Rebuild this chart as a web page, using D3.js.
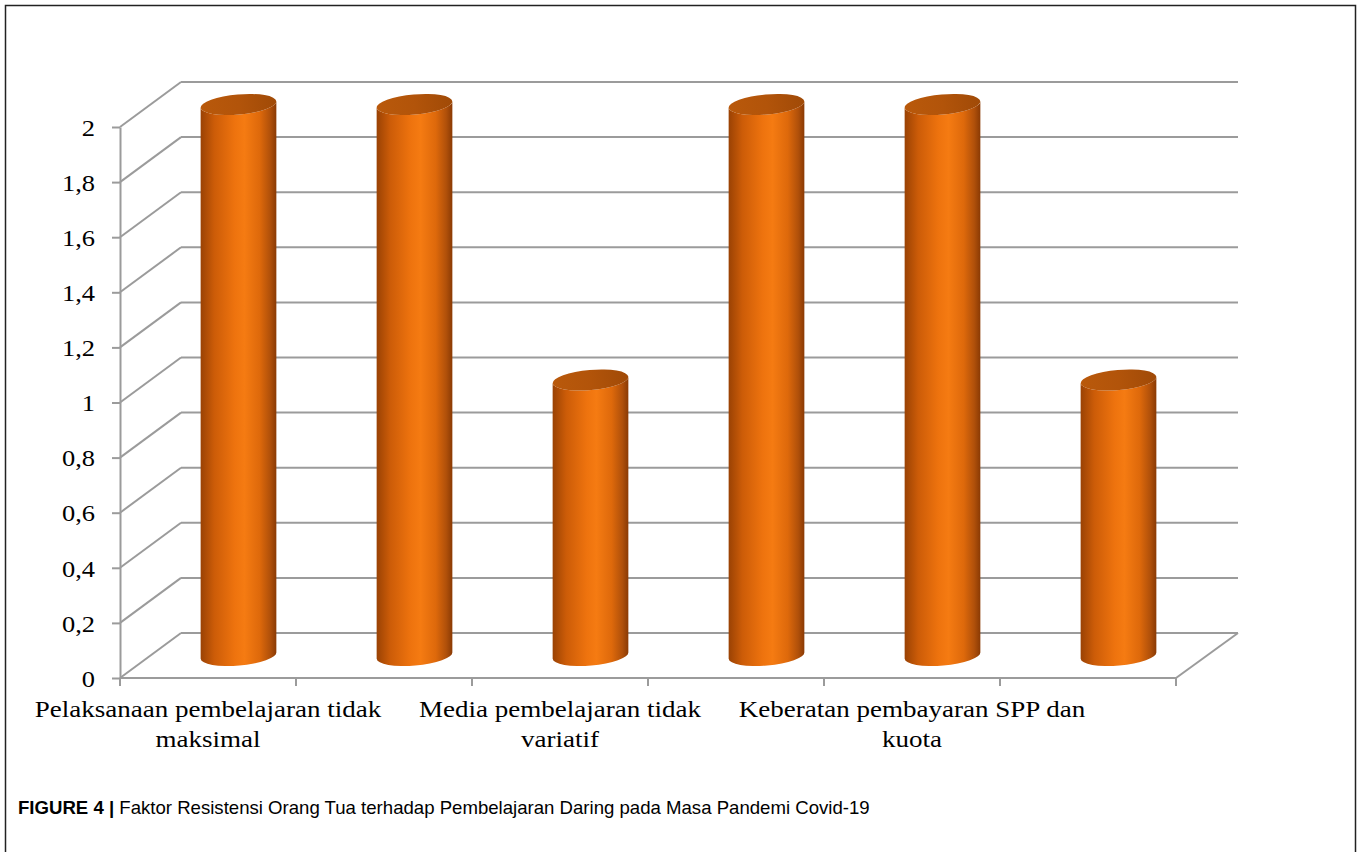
<!DOCTYPE html>
<html>
<head>
<meta charset="utf-8">
<script src="https://cdn.jsdelivr.net/npm/d3@7"></script>
<style>
  html, body { margin: 0; padding: 0; background: #fff; }
  svg { display: block; }
</style>
</head>
<body>
<svg id="chart" width="1363" height="852"></svg>
<script>
// ---- data ----
const categories = [
  "Pelaksanaan pembelajaran tidak\nmaksimal",
  "",
  "Media pembelajaran tidak\nvariatif",
  "",
  "Keberatan pembayaran SPP dan\nkuota",
  ""
];
const values = [2, 2, 1, 2, 2, 1];
const yTicks = [0, 0.2, 0.4, 0.6, 0.8, 1, 1.2, 1.4, 1.6, 1.8, 2];
const captionBold = "FIGURE 4 |";
const captionText = "Faktor Resistensi Orang Tua terhadap Pembelajaran Daring pada Masa Pandemi Covid-19";

(function () {
// ---- layout ----
const svg = d3.select("#chart");
const W = 1363, H = 852;
const plotLeft = 120, plotRight = 1176, plotBottom = 678, plotTop = 127;
const depthX = 61, depthY = 45;
const serifStretch = 1.15;

svg.append("rect").attr("x", 0).attr("y", 0).attr("width", W).attr("height", H).attr("fill", "#fff");
// page frame
svg.append("path")
  .attr("d", `M5.5,${H + 5} L5.5,5.5 L1355.5,5.5 L1355.5,${H + 5}`)
  .attr("fill", "none").attr("stroke", "#222").attr("stroke-width", 1.5);

const x = d3.scaleBand().domain(d3.range(categories.length)).range([plotLeft, plotRight]).paddingInner(0).paddingOuter(0);
const y = d3.scaleLinear().domain([0, 2]).range([plotBottom, plotTop]);

const grid = "#9b9b9b";
const g = svg.append("g");

// back wall gridlines + left wall diagonals
yTicks.forEach(t => {
  const fy = y(t), by = y(t) - depthY;
  g.append("line").attr("x1", plotLeft + depthX).attr("x2", plotRight + depthX + 1)
    .attr("y1", by).attr("y2", by).attr("stroke", grid).attr("stroke-width", 2);
  g.append("line").attr("x1", plotLeft).attr("y1", fy).attr("x2", plotLeft + depthX).attr("y2", by)
    .attr("stroke", grid).attr("stroke-width", 2);
});
// floor front edge and right diagonal
g.append("line").attr("x1", plotLeft).attr("x2", plotRight).attr("y1", plotBottom).attr("y2", plotBottom)
  .attr("stroke", grid).attr("stroke-width", 2);
g.append("line").attr("x1", plotRight).attr("y1", plotBottom).attr("x2", plotRight + depthX + 1).attr("y2", plotBottom - depthY)
  .attr("stroke", grid).attr("stroke-width", 2);

// y axis
const yAxis = d3.axisLeft(y).tickValues(yTicks).tickSize(8).tickSizeOuter(0).tickPadding(17)
  .tickFormat(d => d3.format("~g")(d).replace(".", ","));
const ya = svg.append("g").attr("transform", `translate(${plotLeft},0)`).call(yAxis);
ya.select(".domain").attr("stroke", grid).attr("stroke-width", 2);
ya.selectAll(".tick line").attr("stroke", grid).attr("stroke-width", 2);
ya.selectAll(".tick text").attr("font-family", "'Liberation Serif', 'Times New Roman', serif")
  .attr("font-size", 23).attr("fill", "#000").attr("dy", "0.36em")
  .attr("transform", `translate(-25,0) scale(${serifStretch},1) translate(25,0)`);

// x axis ticks
const bounds = d3.range(categories.length).map(i => x(i)).concat([x(categories.length - 1) + x.bandwidth()]);
svg.append("g").selectAll("line").data(bounds).join("line")
  .attr("x1", d => d).attr("x2", d => d).attr("y1", plotBottom).attr("y2", plotBottom + 8)
  .attr("stroke", grid).attr("stroke-width", 2);

// x labels (every other category shown, as in the original)
const xl = svg.append("g").attr("font-family", "'Liberation Serif', 'Times New Roman', serif")
  .attr("font-size", 23.5).attr("fill", "#000").attr("text-anchor", "middle");
categories.forEach((c, i) => {
  if (!c) return;
  const cx = x(i) + x.bandwidth() / 2;
  const t = xl.append("text").attr("x", cx).attr("y", 717)
    .attr("transform", `translate(${cx},0) scale(${serifStretch},1) translate(${-cx},0)`);
  c.split("\n").forEach((line, k) => {
    t.append("tspan").attr("x", cx).attr("dy", k === 0 ? 0 : 30).text(line);
  });
});

// gradients
const defs = svg.append("defs");
const body = defs.append("linearGradient").attr("id", "cylBody").attr("x1", 0).attr("x2", 1).attr("y1", 0).attr("y2", 0);
[[0, "#9a4204"], [0.18, "#cc5c08"], [0.45, "#ee730e"], [0.58, "#f57b12"], [0.78, "#de690b"], [0.92, "#b0500a"], [1, "#8a3a04"]]
  .forEach(([o, c]) => body.append("stop").attr("offset", o).attr("stop-color", c));
const topG = defs.append("linearGradient").attr("id", "cylTop").attr("x1", 0).attr("x2", 1).attr("y1", 0).attr("y2", 0);
[[0, "#b9590b"], [0.5, "#b2540a"], [1, "#a04a07"]]
  .forEach(([o, c]) => topG.append("stop").attr("offset", o).attr("stop-color", c));

// cylinders
const rx = 38, ry = 10, rot = -5;
const s = Math.sin(-rot * Math.PI / 180), co = Math.cos(-rot * Math.PI / 180);
const bars = svg.append("g");
values.forEach((v, i) => {
  const cx = x(i) + x.bandwidth() / 2 + depthX / 2;
  const ty = y(v) - depthY / 2;
  const by = y(0) - depthY / 2;
  const dx = rx * co, dy = rx * s;
  const d = `M${cx - dx},${ty + dy} L${cx - dx},${by + dy} ` +
    `A${rx},${ry} ${rot} 0 0 ${cx + dx},${by - dy} ` +
    `L${cx + dx},${ty - dy} ` +
    `A${rx},${ry} ${rot} 0 1 ${cx - dx},${ty + dy} Z`;
  bars.append("path").attr("d", d).attr("fill", "url(#cylBody)");
  bars.append("ellipse").attr("cx", cx).attr("cy", ty).attr("rx", rx).attr("ry", ry)
    .attr("transform", `rotate(${rot},${cx},${ty})`).attr("fill", "url(#cylTop)");
});

// caption
const cap = svg.append("text").attr("x", 18).attr("y", 814)
  .attr("font-family", "'Liberation Sans', Arial, sans-serif").attr("font-size", 18.6).attr("fill", "#000");
cap.append("tspan").attr("font-weight", "bold").text(captionBold);
cap.append("tspan").text(" " + captionText);
})();
</script>
</body>
</html>
